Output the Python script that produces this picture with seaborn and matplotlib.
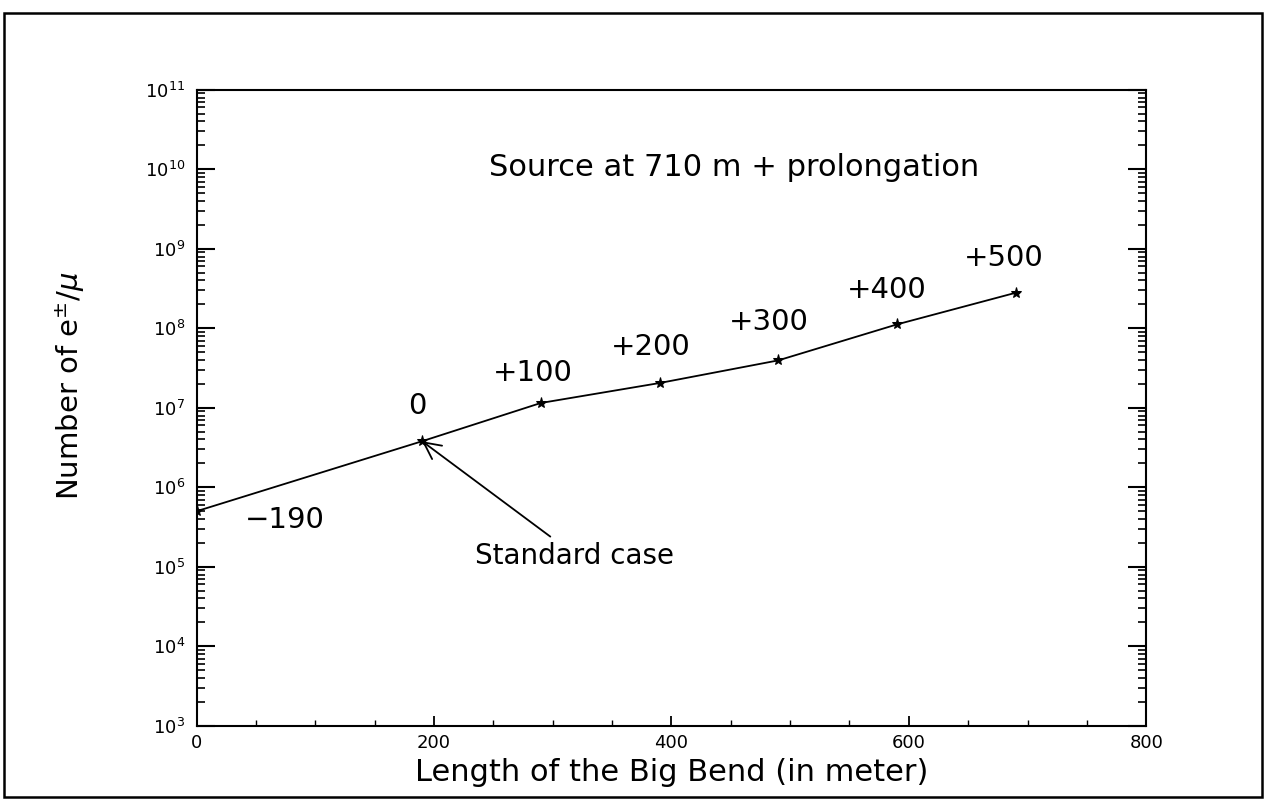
import numpy as np
import pandas as pd
import matplotlib
matplotlib.use("Agg")
import matplotlib.pyplot as plt
import seaborn as sns
from matplotlib.ticker import LogLocator, MultipleLocator, LogFormatterMathtext, NullFormatter
from matplotlib.patches import Rectangle

# Data
length_m = [0, 190, 290, 390, 490, 590, 690]
n_positrons = [5.0e5, 3.8e6, 1.15e7, 2.05e7, 3.95e7, 1.12e8, 2.8e8]
point_labels = ["\u2212190", "0", "+100", "+200", "+300", "+400", "+500"]
label_x = [74, 186, 283, 383, 482, 581, 680]
label_logy = [5.59, 7.02, 7.44, 7.77, 8.08, 8.48, 8.89]

sns.set_theme(style="ticks")
plt.rcParams['font.family'] = ['DejaVu Sans']
plt.rcParams['mathtext.fontset'] = 'dejavusans'
for k in ["text.color", "axes.labelcolor", "xtick.color", "ytick.color"]:
    plt.rcParams[k] = "black"

df = pd.DataFrame({"length": length_m, "n": n_positrons})

fig = plt.figure(figsize=(12.68, 8.02), dpi=100)
ax = fig.add_axes([0.155, 0.095, 0.749, 0.793])

sns.lineplot(data=df, x="length", y="n", ax=ax, color="black", linewidth=1.3,
             marker="*", markersize=8, markeredgecolor="black", markerfacecolor="black")

ax.set_yscale("log")
ax.set_xlim(0, 800)
ax.set_ylim(1e3, 1e11)

ax.xaxis.set_major_locator(MultipleLocator(200))
ax.xaxis.set_minor_locator(MultipleLocator(50))
ax.yaxis.set_major_locator(LogLocator(base=10, numticks=20))
ax.yaxis.set_minor_locator(LogLocator(base=10, subs=np.arange(2, 10), numticks=20))
ax.yaxis.set_major_formatter(LogFormatterMathtext())
ax.yaxis.set_minor_formatter(NullFormatter())

ax.tick_params(axis="y", which="major", direction="in", length=13, width=1.5,
               left=True, right=True, labelsize=13, pad=8)
ax.tick_params(axis="y", which="minor", direction="in", length=6, width=1.2,
               left=True, right=True)
ax.tick_params(axis="x", which="major", direction="in", length=7, width=1.3,
               bottom=True, top=False, labelsize=13, pad=6)
ax.tick_params(axis="x", which="minor", direction="in", length=4, width=1.0,
               bottom=True, top=False)
for s in ax.spines.values():
    s.set_linewidth(1.5)
    s.set_color("black")

ax.set_xlabel("Length of the Big Bend (in meter)", fontsize=22, labelpad=4)
ax.set_ylabel(r"Number of e$^{\pm}$/$\mu$", fontsize=21)
ax.yaxis.set_label_coords(-0.115, 0.535)

for lx, ly, lab in zip(label_x, label_logy, point_labels):
    ax.text(lx, 10 ** ly, lab, fontsize=21, ha="center", va="center")

ax.text(453, 10 ** 10.02, "Source at 710 m + prolongation", fontsize=22,
        ha="center", va="center")

ax.annotate("", xy=(length_m[1], n_positrons[1]), xytext=(298, 10 ** 5.38),
            arrowprops=dict(arrowstyle="->", color="black", lw=1.3,
                            mutation_scale=30, shrinkA=0, shrinkB=0))
ax.text(318, 10 ** 5.13, "Standard case", fontsize=20, ha="center", va="center")

fig.patches.append(Rectangle((0.003, 0.006), 0.992, 0.978, transform=fig.transFigure,
                             fill=False, edgecolor="black", linewidth=1.8))

fig.savefig("out.png", dpi=100)
